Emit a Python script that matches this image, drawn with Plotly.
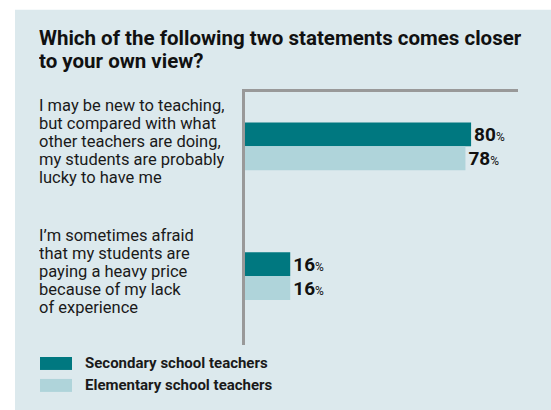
import plotly.graph_objects as go

# ---- data ----
categories = [
    ["I may be new to teaching,", "but compared with what", "other teachers are doing,",
     "my students are probably", "lucky to have me"],
    ["I\u2019m sometimes afraid", "that my students are", "paying a heavy price",
     "because of my lack", "of experience"],
]
series_names = ["Secondary school teachers", "Elementary school teachers"]
secondary = [80, 16]
elementary = [78, 16]
title_lines = ["Which of the following two statements comes closer", "to your own view?"]

# ---- style ----
W, H = 551, 410
PL, PR, PT, PB = 245, 518, 91.5, 345
DARK = "#007880"
LIGHT = "#afd4da"
PANEL = "#dce9ed"
AXIS = "#999999"
FONT = "Roboto, Liberation Sans Narrow, sans-serif"

def px(x):
    return (x - PL) / (PR - PL)

def py(y):
    return (PB - y) / (PB - PT)

ypos = list(range(len(categories)))

def label(v):
    return f"<b>{v}</b><span style='font-size:12px'>%</span>"

fig = go.Figure()
for name, vals, col in [(series_names[0], secondary, DARK), (series_names[1], elementary, LIGHT)]:
    fig.add_trace(go.Bar(
        y=ypos, x=vals, orientation="h", name=name, marker=dict(color=col, line=dict(width=0)),
        text=[label(v) for v in vals], textposition="outside", constraintext="none",
        textfont=dict(family=FONT, size=19, color="#111111"), cliponaxis=False,
        hoverinfo="skip",
    ))

shapes = [dict(type="rect", xref="paper", yref="paper", x0=px(15), x1=px(W + 5), y0=py(9), y1=py(H + 5),
               fillcolor=PANEL, line=dict(width=0), layer="below")]
annotations = []

# title
for i, t in enumerate(title_lines):
    annotations.append(dict(text=f"<b>{t}</b>", xref="paper", yref="paper", x=px(38), y=py(36.5 + i * 23.5),
                            xanchor="left", yanchor="middle", showarrow=False, height=23, borderpad=0,
                            font=dict(family=FONT, size=20.5, color="#111111")))

# category labels
for c, lines in enumerate(categories):
    n = len(lines)
    for i, ln in enumerate(lines):
        annotations.append(dict(text=ln, xref="paper", yref="y", x=px(38), y=c,
                                yshift=((n - 1) / 2 - i) * 17.9 + 4.3,
                                xanchor="left", yanchor="middle", showarrow=False,
                                height=17.5, borderpad=0,
                                font=dict(family=FONT, size=16.5, color="#1a1a1a")))

# legend
for i, (name, col) in enumerate(zip(series_names, [DARK, LIGHT])):
    yc = 363.5 + i * 22
    shapes.append(dict(type="rect", xref="paper", yref="paper", x0=px(40), x1=px(72),
                       y0=py(yc - 6.5), y1=py(yc + 6.5), fillcolor=col, line=dict(width=0)))
    annotations.append(dict(text=f"<b>{name}</b>", xref="paper", yref="paper", x=px(83), y=py(yc),
                            xanchor="left", yanchor="middle", showarrow=False,
                            font=dict(family=FONT, size=15, color="#1a1a1a")))

fig.update_layout(
    width=W, height=H, margin=dict(l=PL, r=W - PR, t=PT, b=H - PB, pad=0),
    paper_bgcolor="white", plot_bgcolor="rgba(0,0,0,0)",
    barmode="group", bargap=0.631, bargroupgap=0,
    showlegend=False, shapes=shapes, annotations=annotations,
    xaxis=dict(range=[0, 96.6], side="top", showline=True, linecolor=AXIS, linewidth=3,
               showticklabels=False, ticks="", showgrid=False, zeroline=False, fixedrange=True),
    yaxis=dict(range=[1.531, -0.419], showline=True, linecolor=AXIS, linewidth=3,
               showticklabels=False, ticks="", showgrid=False, zeroline=False, fixedrange=True),
)

fig.write_html("out.html", config={"displayModeBar": False},
               post_script="document.body.style.margin='0px';document.body.style.overflow='hidden';")
